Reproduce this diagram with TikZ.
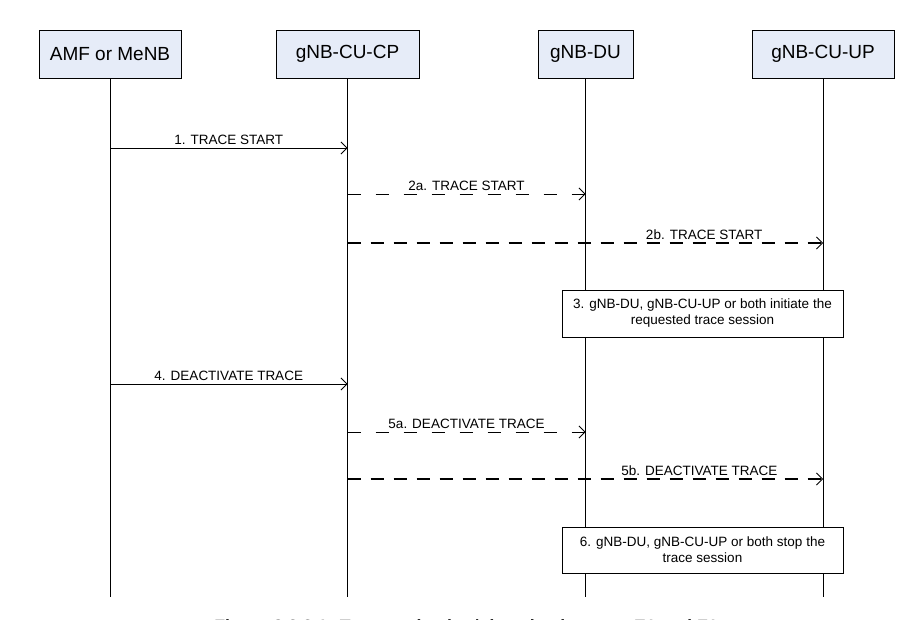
\documentclass[tikz,border=0pt]{standalone}
\usepackage{fontspec}
\setmainfont{Liberation Sans}
\usetikzlibrary{positioning,calc,arrows.meta}
\definecolor{boxblue}{RGB}{230,236,248}

\begin{document}
\begin{tikzpicture}[x=1pt, y=-1pt,
entity/.style={draw, fill=boxblue, minimum height=48pt, inner sep=0pt, font=\fontsize{19}{22}\selectfont},
note/.style={draw, fill=white, minimum width=281pt, minimum height=47pt, align=center, font=\fontsize{13.5}{16}\selectfont},
lbl/.style={above, inner sep=3pt, font=\fontsize{13.5}{16}\selectfont},
tip/.style={-{Straight Barb[length=6pt, width=12pt, line width=0.8pt]}},
msg/.style={tip, line width=0.8pt},
msga/.style={tip, line width=0.8pt, dash pattern=on 13pt off 15pt},
msgb/.style={tip, line width=1.6pt, dash pattern=on 13pt off 10pt}]

\useasboundingbox (0,0) rectangle (920,620);

% entities
\node[entity, minimum width=142pt] (amf)  at (110,54)   {AMF or MeNB};
\node[entity, minimum width=143pt] (cucp) at (347.5,54) {gNB-CU-CP};
\node[entity, minimum width=95pt]  (du)   at (585.5,54) {gNB-DU};
\node[entity, minimum width=142pt] (cuup) at (823,54)   {gNB-CU-UP};

% lifelines
\coordinate (bottom) at (0,597);
\draw[line width=0.8pt] (amf.south)  -- (amf |- bottom);
\draw[line width=1.8pt] (cucp.south) -- (cucp |- bottom);
\draw[line width=0.8pt] (du.south)   -- (du |- bottom);
\draw[line width=0.8pt] (cuup.south) -- (cuup |- bottom);

% message rows
\coordinate (t1)  at (0,148);
\coordinate (t2a) at (0,194);
\coordinate (t2b) at (0,243);
\coordinate (t4)  at (0,384);
\coordinate (t5a) at (0,432);
\coordinate (t5b) at (0,479);

\draw[msg]  (amf |- t1)   -- (cucp |- t1)  node[lbl, midway] {1. TRACE START};
\draw[msga] (cucp |- t2a) -- (du |- t2a)   node[lbl, midway] {2a. TRACE START};
\draw[msgb] (cucp |- t2b) -- (cuup |- t2b) node[lbl, pos=0.75] {2b. TRACE START};

\node[note] (init) at (702.5,313.5) {3. gNB-DU, gNB-CU-UP or both initiate the\\requested trace session};

\draw[msg]  (amf |- t4)   -- (cucp |- t4)  node[lbl, midway] {4. DEACTIVATE TRACE};
\draw[msga] (cucp |- t5a) -- (du |- t5a)   node[lbl, midway] {5a. DEACTIVATE TRACE};
\draw[msgb] (cucp |- t5b) -- (cuup |- t5b) node[lbl, pos=0.74] {5b. DEACTIVATE TRACE};

\node[note, minimum height=46pt] (stop) at (702.5,550) {6. gNB-DU, gNB-CU-UP or both stop the\\trace session};

% caption, cut by the page edge
\node[anchor=base, inner sep=0pt, font=\fontsize{17.7}{20}\selectfont\bfseries] (caption) at (466,632)
  {Figure 8.3.2.1: Trace activation/ deactivation over E1 and F1};

\end{tikzpicture}
\end{document}
